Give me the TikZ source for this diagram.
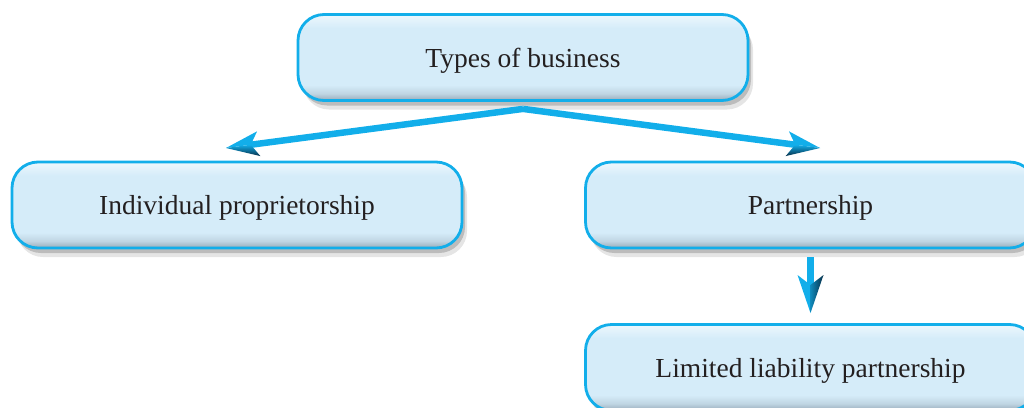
\documentclass[tikz,border=0pt]{standalone}
\usepackage{fontspec}
\setmainfont{Liberation Serif}
\usetikzlibrary{arrows.meta,shadows,calc}
\definecolor{bcyan}{HTML}{12AEEA}
\definecolor{bmid}{HTML}{D5ECF9}
\definecolor{btop}{HTML}{EDF7FD}
\definecolor{bbot}{HTML}{97AAB8}
\definecolor{adark}{HTML}{082F48}
\definecolor{txt}{HTML}{231F20}
\pgfdeclareverticalshading{boxshade}{100bp}{color(0bp)=(bbot); color(25bp)=(bbot); color(29bp)=(bmid!65!bbot); color(34bp)=(bmid); color(67bp)=(bmid); color(75bp)=(btop); color(100bp)=(btop)}
\tikzset{
 box/.style={draw=bcyan, line width=2.8pt, rounded corners=26pt, shading=boxshade,
   minimum width=450pt, minimum height=86pt, font=\fontsize{27.5}{33}\selectfont, text=txt,
   text depth=0pt,
   drop shadow={shadow xshift=5pt, shadow yshift=-9pt, opacity=0.10, fill=black},
   drop shadow={shadow xshift=3pt, shadow yshift=-5pt, opacity=0.18, fill=black}},
 shaft/.style={draw=bcyan, line width=6.5pt},
 headlight/.style={fill=bcyan},
 headdark/.style={top color=bcyan, bottom color=adark},
 headdarkv/.style={left color=bcyan!70!adark, right color=adark},
}
\begin{document}
\begin{tikzpicture}[x=1pt,y=-1pt]
\useasboundingbox (0,0) rectangle (1024,407);
\node[box] (top) at (523,57.5) {Types of business};
\node[box] (indiv) at (237,205) {Individual proprietorship};
\node[box] (pship) at (810.5,205) {Partnership};
\node[box] (llp) at (810.5,367.5) {Limited liability partnership};
\coordinate (src) at ([yshift=-7pt]top.south);
\coordinate (tipL) at (226,148);
\coordinate (tipR) at (820,148);
\coordinate (srcD) at ([yshift=-8pt]pship.south);
\coordinate (tipD) at (810.5,313);
% shafts
\draw[shaft] (src) -- ($(tipL)!22pt!(src)$);
\draw[shaft] (src) -- ($(tipR)!22pt!(src)$);
\draw[shaft] (srcD) -- ($(tipD)!24pt!(srcD)$);
% arrowheads: left
\coordinate (bL) at ($(tipL)!33pt!(src)$);
\coordinate (iL) at ($(tipL)!25pt!(src)$);
\fill[headlight] (tipL) -- ($(bL)!12.5pt!-90:(tipL)$) -- (iL) -- cycle;
\shade[headdark] (tipL) -- ($(bL)!12.5pt!90:(tipL)$) -- (iL) -- cycle;
% right
\coordinate (bR) at ($(tipR)!33pt!(src)$);
\coordinate (iR) at ($(tipR)!25pt!(src)$);
\fill[headlight] (tipR) -- ($(bR)!12.5pt!90:(tipR)$) -- (iR) -- cycle;
\shade[headdark] (tipR) -- ($(bR)!12.5pt!-90:(tipR)$) -- (iR) -- cycle;
% down
\coordinate (bD) at ($(tipD)!38pt!(srcD)$);
\coordinate (iD) at ($(tipD)!28pt!(srcD)$);
\fill[headlight] (tipD) -- ($(bD)!13pt!-90:(tipD)$) -- (iD) -- cycle;
\shade[headdarkv] (tipD) -- ($(bD)!13pt!90:(tipD)$) -- (iD) -- cycle;
\end{tikzpicture}
\end{document}
